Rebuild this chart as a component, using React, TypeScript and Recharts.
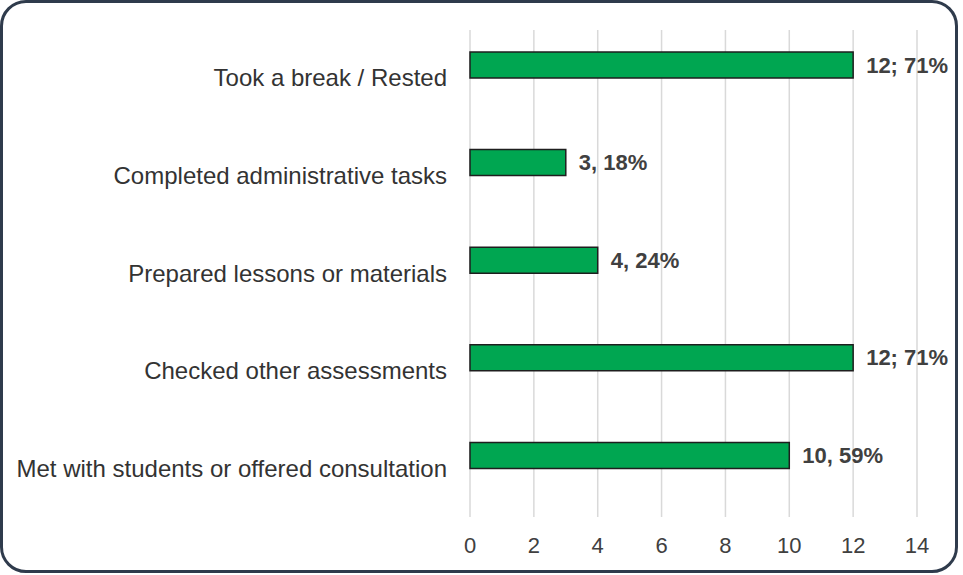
import React from "react";
import { BarChart, Bar, XAxis, YAxis, CartesianGrid, LabelList } from "recharts";

const categories = [
  "Took a break / Rested",
  "Completed administrative tasks",
  "Prepared lessons or materials",
  "Checked other assessments",
  "Met with students or offered consultation",
];
const counts = [12, 3, 4, 12, 10];
const valueLabels = ["12; 71%", "3, 18%", "4, 24%", "12; 71%", "10, 59%"];
const xTicks = [0, 2, 4, 6, 8, 10, 12, 14];

const data = categories.map((name, i) => ({ name, count: counts[i], label: valueLabels[i] }));

const FONT = '"Liberation Sans", Arial, sans-serif';

const renderLabel = (props: any) => {
  const { x, y, width, height, value } = props;
  return (
    <text
      x={Number(x) + Number(width) + 13}
      y={Number(y) + Number(height) / 2}
      dominantBaseline="central"
      fontFamily={FONT}
      fontSize={22}
      fontWeight="bold"
      fill="#404040"
    >
      {value}
    </text>
  );
};

export default function App() {
  return (
    <div style={{ position: "absolute", left: 0, top: 0, width: 963, height: 575, background: "#fff" }}>
      <div
        style={{
          position: "absolute",
          left: 0,
          top: 0,
          width: 958,
          height: 573,
          border: "3.5px solid #2f3b4c",
          borderRadius: 26,
          boxSizing: "border-box",
        }}
      />
      <div style={{ position: "absolute", left: 0, top: 0 }}>
        <BarChart
          layout="vertical"
          width={963}
          height={575}
          data={data}
          margin={{ top: 30, right: 46, bottom: 0, left: 0 }}
        >
          <CartesianGrid horizontal={false} vertical={true} stroke="#d9d9d9" strokeWidth={1.5} />
          <XAxis
            type="number"
            domain={[0, 14]}
            ticks={xTicks}
            axisLine={false}
            tickLine={false}
            tickSize={0}
            tickMargin={20}
            height={58}
            tick={{ fontFamily: FONT, fontSize: 22, fill: "#404040" }}
          />
          <YAxis
            type="category"
            dataKey="name"
            width={470}
            axisLine={false}
            tickLine={false}
            tickSize={0}
            tickMargin={23}
            padding={{ top: -14, bottom: 13 }}
            interval={0}
            tick={{ fontFamily: FONT, fontSize: 24, fill: "#333333", dy: 13 }}
          />
          <Bar
            dataKey="count"
            fill="#00a651"
            stroke="#1e1e1e"
            strokeWidth={1.5}
            barSize={26}
            isAnimationActive={false}
          >
            <LabelList dataKey="label" content={renderLabel} />
          </Bar>
        </BarChart>
      </div>
    </div>
  );
}
